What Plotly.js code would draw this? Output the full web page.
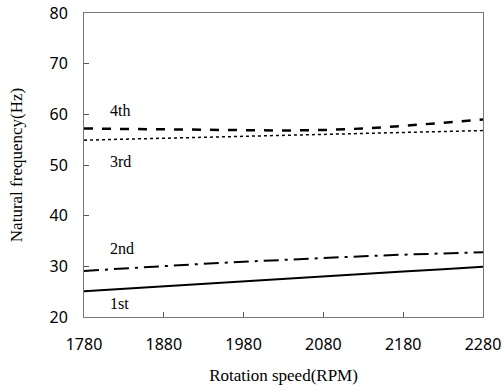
<!DOCTYPE html>
<html><head><meta charset="utf-8">
<script src="https://cdn.plot.ly/plotly-3.0.1.min.js"></script>
<style>body{margin:0}#c{width:504px;height:392px}</style>
</head><body><div id="c"></div>
<script>
const rpm = [1780, 1830, 1880, 1930, 1980, 2030, 2080, 2130, 2180, 2230, 2280];
const mode1 = [25.1, 25.6, 26.0, 26.5, 27.0, 27.5, 28.0, 28.5, 29.0, 29.4, 29.9];
const mode2 = [29.1, 29.6, 30.1, 30.5, 30.9, 31.3, 31.7, 32.0, 32.3, 32.6, 32.8];
const mode3 = [54.9, 55.1, 55.3, 55.5, 55.7, 55.9, 56.1, 56.3, 56.5, 56.7, 56.8];
const mode4 = [57.2, 57.1, 57.0, 56.9, 56.8, 56.8, 56.9, 57.2, 57.7, 58.3, 59.0];
const modeNames = ['1st', '2nd', '3rd', '4th'];
const labelPos = [[1810, 22.6], [1810, 33.5], [1810, 50.6], [1810, 60.8]];

const series = [mode1, mode2, mode3, mode4];
const dashes = ['solid', 'longdashdot', 'dot', 'dash'];
const widths = [2, 2, 1.5, 2.5];
const traces = series.map((s, i) => ({
  x: rpm, y: s, type: 'scatter', mode: 'lines', name: modeNames[i],
  line: {color: '#000', width: widths[i], dash: dashes[i]}, showlegend: false
}));
const serif = 'Times New Roman, Liberation Serif, serif';
const layout = {
  width: 504, height: 392,
  margin: {l: 84, r: 21, t: 13, b: 75},
  paper_bgcolor: '#fff', plot_bgcolor: '#fff',
  xaxis: {range: [1780, 2280], tickvals: [1780, 1880, 1980, 2080, 2180, 2280], showgrid: false, zeroline: false,
    showline: true, mirror: true, linecolor: '#777', linewidth: 1, ticks: 'inside', ticklen: 5, tickcolor: '#555',
    ticklabelstandoff: 13,
    tickfont: {family: 'Noto Sans, DejaVu Sans, sans-serif', size: 16, color: '#000'},
    title: {text: 'Rotation speed(RPM)', font: {family: serif, size: 17, color: '#000'}, standoff: 14}},
  yaxis: {range: [20, 80], dtick: 10, showgrid: false, zeroline: false,
    showline: true, mirror: true, linecolor: '#777', linewidth: 1, ticks: 'inside', ticklen: 5, tickcolor: '#555',
    ticklabelstandoff: 12,
    tickfont: {family: 'Noto Sans, DejaVu Sans, sans-serif', size: 16, color: '#000'},
    title: {text: 'Natural frequency(Hz)', font: {family: serif, size: 17, color: '#000'}, standoff: 22}},
  annotations: modeNames.map((n, i) => ({x: labelPos[i][0], y: labelPos[i][1], text: n, showarrow: false,
    xanchor: 'left', font: {family: serif, size: 16, color: '#000'}}))
};
Plotly.newPlot('c', traces, layout, {staticPlot: true});
</script></body></html>
